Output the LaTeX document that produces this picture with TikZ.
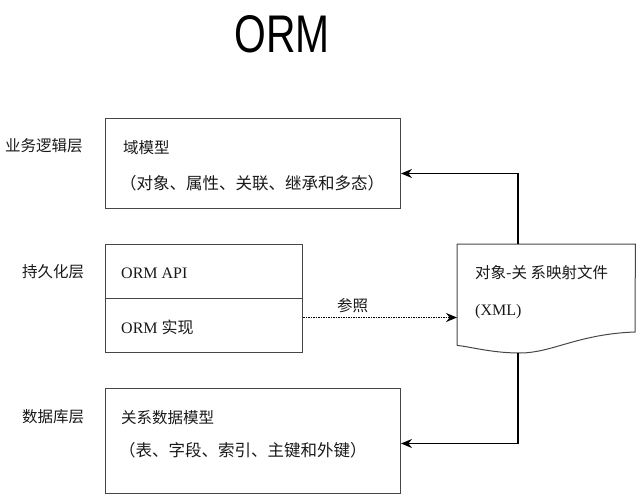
\documentclass[tikz,border=0pt]{standalone}
\usepackage{fontspec}
\setmainfont{Liberation Serif}
\newfontfamily\cjk{Noto Sans CJK SC}
\newfontfamily\titlefont{Liberation Sans}
\usetikzlibrary{arrows.meta, positioning}
\definecolor{boxgray}{RGB}{70, 70, 70}
\definecolor{textdark}{RGB}{25, 25, 25}

\begin{document}
\begin{tikzpicture}[
    x=1pt, y=-1pt,
    layerbox/.style={rectangle, draw=boxgray, line width=1pt, anchor=north west, inner sep=0pt},
    txt/.style={anchor=west, inner sep=0pt, font=\fontsize{15.5}{18}\selectfont\cjk, color=textdark},
    subtxt/.style={txt, font=\fontsize{16.5}{18}\selectfont\cjk},
    latintxt/.style={txt, font=\fontsize{16}{18}\selectfont\rmfamily},
    arrow/.style={-{Stealth[length=11pt, width=9pt]}, line width=1.4pt, color=black},
    refarrow/.style={-{Stealth[length=11pt, width=9pt]}, line width=1.5pt, dash pattern=on 1.5pt off 1pt, color=black},
]
\useasboundingbox (0,0) rectangle (641,495);

% Title
\node[font=\titlefont\fontsize{53}{53}\selectfont, xscale=0.77, anchor=base, inner sep=0pt] (title) at (282,53) {ORM};

% Layer labels
\node[txt] (bizlbl) at (5,146) {业务逻辑层};
\node[txt] (perlbl) at (22,272) {持久化层};
\node[txt] (dblbl) at (22,417) {数据库层};

% Domain model
\node[layerbox, minimum width=295pt, minimum height=90pt] (domain) at (105,118) {};
\node[txt] (domtitle) at (123,148) {域模型};
\node[subtxt] (domsub) at (120,183) {（对象、属性、关联、继承和多态）};

% Persistence layer
\node[layerbox, minimum width=197pt, minimum height=54pt] (api) at (105,244) {};
\node[layerbox, minimum width=197pt, minimum height=54pt] (impl) at (105,298) {};
\node[latintxt] (apitxt) at (121,273) {ORM API};
\node[latintxt] (impltxt) at (121,327) {ORM {\cjk 实现}};

% Relational model
\node[layerbox, minimum width=295pt, minimum height=105pt] (db) at (105,388) {};
\node[txt] (dbtitle) at (121,418) {关系数据模型};
\node[subtxt] (dbsub) at (119,450) {（表、字段、索引、主键和外键）};

% Mapping file (document shape)
\node[rectangle, anchor=north west, inner sep=0pt, minimum width=178pt, minimum height=101pt] (mapfile) at (457,244) {};
\draw[boxgray, line width=1pt] (mapfile.south west) -- (mapfile.north west) -- (mapfile.north east) -- (635,332)
    .. controls (578,334) and (552,353) .. (520,353) .. controls (492,353) and (472,347) .. (mapfile.south west);
\node[txt] (maptitle) at (475,273) {对象-关 系映射文件};
\node[latintxt] (mapxml) at (475,312) {(XML)};

% Connectors
\coordinate (maptop) at (518,244);
\coordinate (mapbot) at (518,353);
\draw[arrow] (maptop) |- ([yshift=-10pt]domain.east);
\draw[arrow] (mapbot) |- ([yshift=-2.5pt]db.east);
\path ([yshift=8pt]impl.east) coordinate (refstart);
\draw[refarrow] (refstart) -- (refstart -| mapfile.west);
\node[txt] (reflbl) at (337,306) {参照};

\end{tikzpicture}
\end{document}
